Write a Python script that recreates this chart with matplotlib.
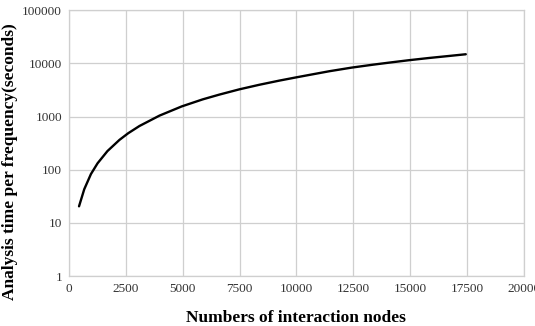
import numpy as np
import matplotlib.pyplot as plt
from matplotlib.ticker import FixedLocator, FuncFormatter

# values
nodes = [440, 670, 965, 1255, 1690, 2220, 2600, 3100, 3980, 4960, 5880, 6610,
         7490, 8370, 9250, 10000, 10570, 11450, 12430, 13350, 14080, 14960,
         15840, 16720, 17450]
seconds = [20.5, 43, 83, 132, 224, 364, 484, 664, 1040, 1550, 2100, 2580,
           3240, 3950, 4730, 5450, 6050, 7100, 8300, 9400, 10300, 11450,
           12600, 13750, 14800]

x_ticks = [0, 2500, 5000, 7500, 10000, 12500, 15000, 17500, 20000]
y_ticks = [1, 10, 100, 1000, 10000, 100000]

plt.rcParams['font.family'] = ['Liberation Serif', 'DejaVu Serif']

fig = plt.figure(figsize=(5.35, 3.26), dpi=100)
ax = fig.add_axes([0.129, 0.153, 0.850, 0.816])

ax.plot(nodes, seconds, color='black', lw=1.7, solid_capstyle='round',
        solid_joinstyle='round')

ax.set_yscale('log')
ax.set_xlim(0, 20000)
ax.set_ylim(1, 100000)
ax.xaxis.set_major_locator(FixedLocator(x_ticks))
ax.yaxis.set_major_locator(FixedLocator(y_ticks))
ax.yaxis.set_minor_locator(FixedLocator([]))
ax.yaxis.set_major_formatter(FuncFormatter(lambda v, p: '%d' % v))
ax.xaxis.set_major_formatter(FuncFormatter(lambda v, p: '%d' % v))

ax.grid(True, color='#cfcfcf', lw=0.9)
ax.set_axisbelow(True)
for s in ax.spines.values():
    s.set_color('#cfcfcf')
    s.set_linewidth(0.9)
ax.tick_params(length=0, labelsize=9.5, colors='#333333', pad=5)

ax.set_xlabel('Numbers of interaction nodes', fontsize=12.5, fontweight='bold', labelpad=11)
ax.set_ylabel('Analysis time per frequency(seconds)', fontsize=12.5, fontweight='bold',
              labelpad=3, y=0.43)

fig.savefig('out.png', dpi=100)
